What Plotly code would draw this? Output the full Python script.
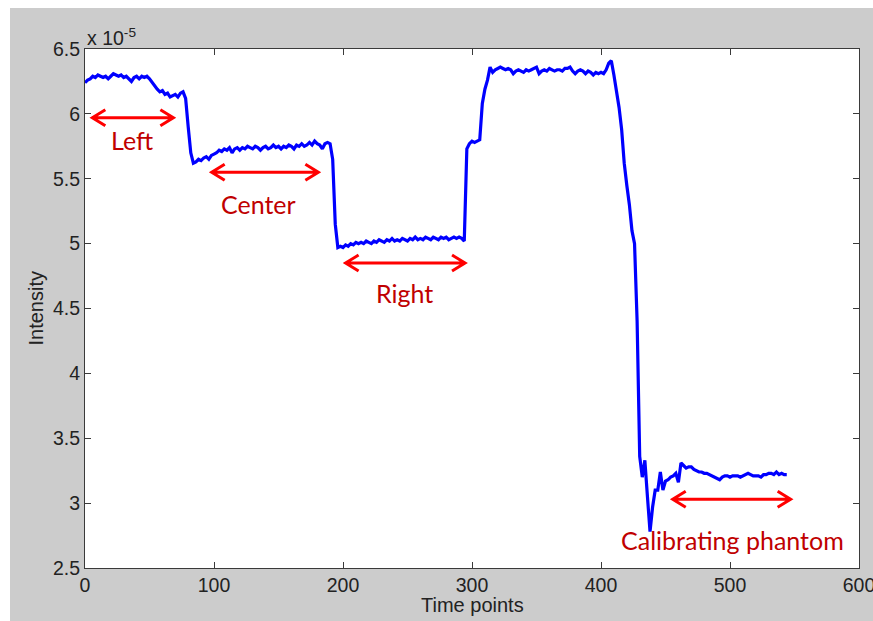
import plotly.graph_objects as go

# Intensity trace, in units of 1e-5, sampled every second time point (0, 2, ..., 544)
time_points = list(range(0, 545, 2))
intensity_e5 = [
    6.24, 6.26, 6.27, 6.29, 6.28, 6.30, 6.29, 6.28, 6.29, 6.27,   # 0-18
    6.29, 6.31, 6.30, 6.29, 6.30, 6.28, 6.29, 6.27, 6.25, 6.28,   # 20-38
    6.29, 6.27, 6.29, 6.28, 6.29, 6.27, 6.24, 6.21, 6.19, 6.17,   # 40-58
    6.18, 6.15, 6.16, 6.13, 6.14, 6.15, 6.13, 6.16, 6.17, 6.12,   # 60-78
    5.90, 5.70, 5.62, 5.63, 5.65, 5.64, 5.66, 5.67, 5.65, 5.68,   # 80-98
    5.69, 5.70, 5.72, 5.71, 5.73, 5.72, 5.74, 5.70, 5.73, 5.74,   # 100-118
    5.72, 5.74, 5.73, 5.75, 5.74, 5.73, 5.75, 5.74, 5.72, 5.74,   # 120-138
    5.75, 5.73, 5.74, 5.76, 5.74, 5.75, 5.73, 5.75, 5.74, 5.76,   # 140-158
    5.75, 5.73, 5.76, 5.75, 5.77, 5.75, 5.76, 5.78, 5.76, 5.79,   # 160-178
    5.77, 5.76, 5.73, 5.77, 5.78, 5.77, 5.65, 5.15, 4.97, 4.98,   # 180-198
    4.97, 4.99, 4.98, 5.00, 4.99, 5.01, 5.00, 5.01, 5.00, 5.02,   # 200-218
    5.01, 5.00, 5.02, 5.01, 5.03, 5.02, 5.01, 5.03, 5.02, 5.04,   # 220-238
    5.02, 5.03, 5.02, 5.04, 5.03, 5.02, 5.04, 5.03, 5.05, 5.03,   # 240-258
    5.04, 5.03, 5.05, 5.04, 5.03, 5.05, 5.04, 5.03, 5.05, 5.04,   # 260-278
    5.05, 5.03, 5.04, 5.05, 5.04, 5.05, 5.04, 5.02, 5.73, 5.77,   # 280-298
    5.79, 5.78, 5.79, 5.80, 6.08, 6.19, 6.26, 6.36, 6.32, 6.34,   # 300-318
    6.35, 6.36, 6.35, 6.34, 6.35, 6.34, 6.31, 6.33, 6.34, 6.33,   # 320-338
    6.32, 6.34, 6.33, 6.34, 6.35, 6.36, 6.31, 6.33, 6.34, 6.33,   # 340-358
    6.35, 6.34, 6.33, 6.34, 6.34, 6.33, 6.35, 6.35, 6.36, 6.33,   # 360-378
    6.31, 6.33, 6.34, 6.33, 6.31, 6.33, 6.32, 6.30, 6.32, 6.31,   # 380-398
    6.32, 6.31, 6.34, 6.39, 6.41, 6.30, 6.18, 6.05, 5.88, 5.62,   # 400-418
    5.45, 5.30, 5.10, 5.00, 4.40, 3.36, 3.20, 3.33, 3.05, 2.78,   # 420-438
    2.97, 3.10, 3.10, 3.24, 3.10, 3.17, 3.18, 3.20, 3.21, 3.23,   # 440-458
    3.16, 3.31, 3.29, 3.27, 3.28, 3.28, 3.26, 3.25, 3.24, 3.24,   # 460-478
    3.23, 3.23, 3.22, 3.21, 3.20, 3.19, 3.18, 3.20, 3.21, 3.21,   # 480-498
    3.20, 3.21, 3.21, 3.21, 3.20, 3.21, 3.22, 3.23, 3.22, 3.21,   # 500-518
    3.21, 3.21, 3.20, 3.22, 3.22, 3.23, 3.23, 3.22, 3.24, 3.22,   # 520-538
    3.23, 3.22, 3.22,                                             # 540-544
]

x_ticks = [0, 100, 200, 300, 400, 500, 600]
x_tick_labels = ["0", "100", "200", "300", "400", "500", "600"]
y_ticks = [2.5, 3, 3.5, 4, 4.5, 5, 5.5, 6, 6.5]
y_tick_labels = ["2.5", "3", "3.5", "4", "4.5", "5", "5.5", "6", "6.5"]

# Labelled ranges: name, arrow start/end, arrow level, label position
region_names = ["Left", "Center", "Right", "Calibrating phantom"]
region_start = [5.7, 98.2, 202.0, 455.6]
region_end = [68.5, 180.9, 294.6, 547.0]
region_level = [5.97, 5.55, 4.85, 3.03]
label_x = [36.8, 134.3, 247.3, 501.9]
label_y = [5.80, 5.305, 4.616, 2.716]

# Figure geometry (pixels)
W, H = 873, 621
ML, MR, MT, MB = 85, 14, 49, 53
PW, PH = W - ML - MR, H - MT - MB
X_RANGE = (0, 600)
Y_RANGE = (2.5, 6.5)
px_x = PW / (X_RANGE[1] - X_RANGE[0])
px_y = PH / (Y_RANGE[1] - Y_RANGE[0])

AXIS_FONT = "Liberation Sans, Arial, Helvetica, sans-serif"
LABEL_FONT = "Lato, Carlito, Calibri, sans-serif"
BLUE = "#0000ff"
ARROW_RED = "#ff0000"
TEXT_RED = "#c00000"

fig = go.Figure()
fig.add_trace(go.Scatter(
    x=time_points, y=intensity_e5, mode="lines",
    line=dict(color=BLUE, width=3.2), hoverinfo="skip", showlegend=False,
))

shapes = []
# white border strip along the top and left of the grey figure frame
shapes.append(dict(type="rect", xref="paper", yref="paper", layer="above",
                   x0=-1, x1=2, y0=(PH + MT - 8) / PH, y1=2,
                   fillcolor="white", line=dict(width=0)))
shapes.append(dict(type="rect", xref="paper", yref="paper", layer="above",
                   x0=-1, x1=(10 - ML) / PW, y0=-1, y1=2,
                   fillcolor="white", line=dict(width=0)))

# double-headed arrows with open heads
head_dx = 13 / px_x
head_dy = 8 / px_y
for x0, x1, yv in zip(region_start, region_end, region_level):
    path = (f"M{x0},{yv} L{x1},{yv} "
            f"M{x0 + head_dx},{yv + head_dy} L{x0},{yv} L{x0 + head_dx},{yv - head_dy} "
            f"M{x1 - head_dx},{yv + head_dy} L{x1},{yv} L{x1 - head_dx},{yv - head_dy}")
    shapes.append(dict(type="path", xref="x", yref="y", path=path,
                       line=dict(color=ARROW_RED, width=3)))

annotations = []
for name, lx, ly in zip(region_names, label_x, label_y):
    annotations.append(dict(x=lx, y=ly, xref="x", yref="y", text=name,
                            showarrow=False, xanchor="center", yanchor="middle",
                            font=dict(family=LABEL_FONT, size=25, color=TEXT_RED)))

# axis titles and exponent marker
annotations.append(dict(x=0.5, y=(PH - (605 - MT)) / PH, xref="paper", yref="paper",
                        text="Time points", showarrow=False, xanchor="center",
                        yanchor="middle",
                        font=dict(family=AXIS_FONT, size=20, color="#222222")))
annotations.append(dict(x=(35 - ML) / PW, y=0.5, xref="paper", yref="paper",
                        text="Intensity", showarrow=False, textangle=-90,
                        xanchor="center", yanchor="middle",
                        font=dict(family=AXIS_FONT, size=20, color="#222222")))
annotations.append(dict(x=0, y=1, xref="paper", yref="paper",
                        text="x 10<sup>-5</sup>", showarrow=False,
                        xanchor="left", yanchor="bottom", yshift=-2,
                        font=dict(family=AXIS_FONT, size=19.5, color="#222222")))

axis_common = dict(
    showgrid=False, zeroline=False, showline=True, linecolor="#3a3a3a",
    linewidth=1, mirror="allticks", ticks="inside", ticklen=6,
    tickcolor="#3a3a3a", tickwidth=1, automargin=False,
    tickfont=dict(family=AXIS_FONT, size=19.5, color="#222222"),
)

fig.update_layout(
    width=W, height=H, autosize=False,
    margin=dict(l=ML, r=MR, t=MT, b=MB, pad=0),
    paper_bgcolor="#cccccc", plot_bgcolor="white",
    xaxis=dict(range=list(X_RANGE), tickvals=x_ticks, ticktext=x_tick_labels,
               ticklabeloverflow="allow", **axis_common),
    yaxis=dict(range=list(Y_RANGE), tickvals=y_ticks, ticktext=y_tick_labels,
               **axis_common),
    shapes=shapes, annotations=annotations, showlegend=False,
)

fig.write_html("out.html")
